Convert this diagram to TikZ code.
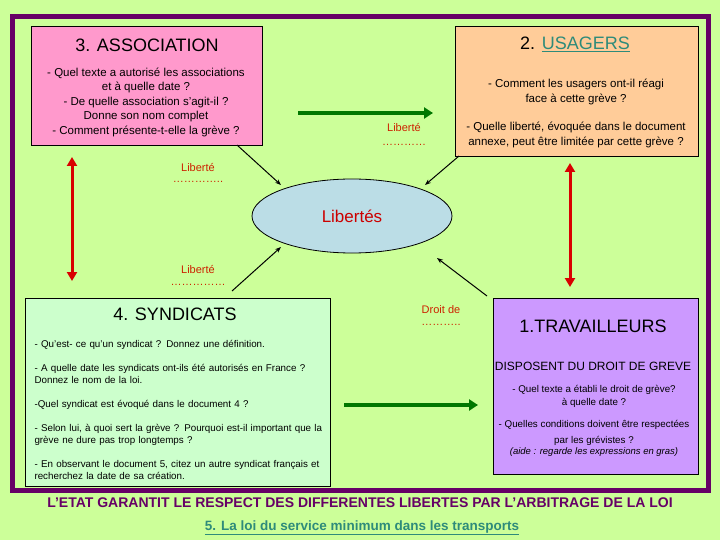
\documentclass[tikz,border=0pt]{standalone}
\usepackage{fontspec}
\setmainfont{Liberation Sans}
\usetikzlibrary{shapes.geometric,arrows.meta}
\definecolor{bg}{HTML}{CCFF99}
\definecolor{frame}{HTML}{660066}
\definecolor{pinkb}{HTML}{FF99CC}
\definecolor{orangeb}{HTML}{FFCC99}
\definecolor{mintb}{HTML}{CCFFCC}
\definecolor{lilac}{HTML}{CC99FF}
\definecolor{ellb}{HTML}{BBDDE6}
\definecolor{darkgr}{HTML}{007700}
\definecolor{redl}{HTML}{CC2200}
\definecolor{teal}{HTML}{2E8B7A}
\begin{document}
\begin{tikzpicture}[x=1pt,y=-1pt,
  qtext/.style={font=\fontsize{11.5}{14.5}\selectfont,align=center},
  ttl/.style={font=\fontsize{18}{20}\selectfont},
  lab/.style={text=redl,font=\fontsize{11}{13}\selectfont},
  garrow/.style={darkgr,line width=3.5pt,-{Triangle[length=9pt,width=11pt]}},
  rarrow/.style={red!85!black,line width=3pt,{Triangle[length=9pt,width=10pt]}-{Triangle[length=9pt,width=10pt]}},
  barrow/.style={black,line width=1pt,-{Stealth[length=6pt]}}]
\fill[bg] (0,0) rectangle (720,540);
\useasboundingbox (0,0) rectangle (720,540);
\draw[frame,line width=5pt] (12,17) rectangle (708,490);
% boxes
\draw[fill=pinkb,line width=0.8pt] (31,26) rectangle (262,145);
\draw[fill=orangeb,line width=0.8pt] (455,26) rectangle (698,156);
\draw[fill=mintb,line width=0.8pt] (25,298) rectangle (330,486);
\draw[fill=lilac,line width=0.8pt] (493,298) rectangle (698,474);
\node[ttl] (t3) at (147,45) {3. ASSOCIATION};
\node[qtext] (q3) at (146,102) {- Quel texte a autorisé les associations\\et à quelle date ?\\- De quelle association s’agit-il ?\\Donne son nom complet\\- Comment présente-t-elle la grève ?};
\node[ttl] (t2) at (575,44) {2. \textcolor{teal}{\underline{USAGERS}}};
\node[qtext] (q2a) at (576,92) {- Comment les usagers ont-il réagi\\face à cette grève ?};
\node[qtext] (q2b) at (576,135) {- Quelle liberté, évoquée dans le document\\annexe, peut être limitée par cette grève ?};
\node[ellipse,draw=black,fill=ellb,line width=0.8pt,minimum width=200pt,minimum height=74pt,text=red!80!black,font=\fontsize{17}{19}\selectfont] (lib) at (352,216) {Libertés};
\node[ttl] (t4) at (175,314) {4. SYNDICATS};
\node[anchor=north west,align=left,font=\fontsize{9.8}{12}\selectfont,text width=295pt] (q4) at (31,337) {- Qu’est- ce qu’un syndicat ? Donnez une définition.\\[12pt]- A quelle date les syndicats ont-ils été autorisés en France ?\\Donnez le nom de la loi.\\[12pt]-Quel syndicat est évoqué dans le document 4 ?\\[12pt]- Selon lui, à quoi sert la grève ? Pourquoi est-il important que la\\grève ne dure pas trop longtemps ?\\[12pt]- En observant le document 5, citez un autre syndicat français et\\recherchez la date de sa création.};
\node[ttl] (t1) at (593,326) {1.TRAVAILLEURS};
\node[font=\fontsize{12}{14}\selectfont] (d1) at (593,366) {DISPOSENT DU DROIT DE GREVE};
\node[qtext,font=\fontsize{9.8}{13}\selectfont] (q1a) at (594,396) {- Quel texte a établi le droit de grève?\\à quelle date ?};
\node[qtext,font=\fontsize{9.8}{16}\selectfont] (q1b) at (594,433) {- Quelles conditions doivent être respectées\\par les grévistes ?};
\node[font=\itshape\fontsize{9.5}{11}\selectfont] (q1c) at (594,452) {(aide : regarde les expressions en gras)};
% labels
\node[lab] (l1) at (404,128) {Liberté};
\node[lab] (l1d) at (404,145) {…………};
\node[lab] (l2) at (198,168) {Liberté};
\node[lab] (l2d) at (198,182) {…………..};
\node[lab] (l3) at (198,270) {Liberté};
\node[lab] (l3d) at (198,285) {……………};
\node[lab] (l4) at (441,310) {Droit de};
\node[lab] (l4d) at (441,325) {………..};
% arrows
\coordinate (ga1) at (298,113); \coordinate (ga2) at (433,113);
\draw[garrow] (ga1) -- (ga2);
\coordinate (gb1) at (344,405); \coordinate (gb2) at (478,405);
\draw[garrow] (gb1) -- (gb2);
\coordinate (ra1) at (72,157); \coordinate (ra2) at (72,281);
\draw[rarrow] (ra1) -- (ra2);
\coordinate (rb1) at (570,163); \coordinate (rb2) at (570,287);
\draw[rarrow] (rb1) -- (rb2);
\coordinate (a1) at (237,145); \coordinate (a2) at (459,156);
\coordinate (a3) at (232,291); \coordinate (a4) at (487,296);
\draw[barrow] (a1) -- (281,185);
\draw[barrow] (a2) -- (425,185);
\draw[barrow] (a3) -- (281,247);
\draw[barrow] (a4) -- (437,258);
\node[text=frame,font=\bfseries\fontsize{14}{16}\selectfont] (st) at (360,503) {L’ETAT GARANTIT LE RESPECT DES DIFFERENTES LIBERTES PAR L’ARBITRAGE DE LA LOI};
\node[text=teal,font=\bfseries\fontsize{13.5}{15}\selectfont] (lo) at (362,528) {\underline{5. La loi du service minimum dans les transports}};
\end{tikzpicture}
\end{document}
